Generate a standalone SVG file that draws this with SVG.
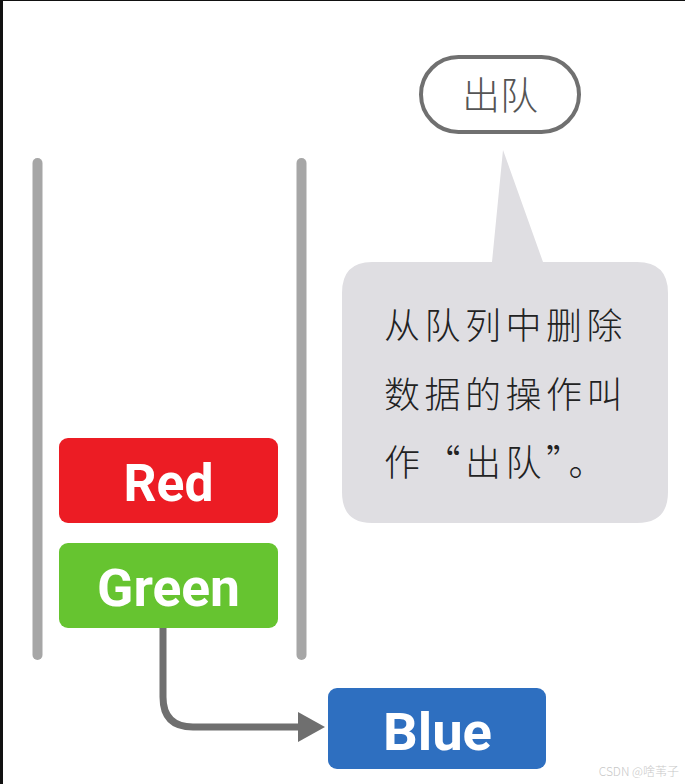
<svg xmlns="http://www.w3.org/2000/svg" width="685" height="784" viewBox="0 0 685 784">
<defs>
<style>
.bar{stroke:#a6a6a6;stroke-width:10;stroke-linecap:round;fill:none}
.box-label{font-family:Roboto,"Liberation Sans",sans-serif;font-weight:bold;font-size:51px;fill:#ffffff;text-anchor:middle}
.cjk{font-family:"Noto Sans CJK SC","Noto Sans",sans-serif;font-weight:300}
.body{font-size:36px;fill:#222222;letter-spacing:4.5px}
.conn{stroke:#6f6f6f;stroke-width:7;fill:none}
</style>
<marker id="arrow" viewBox="0 0 27 30" refX="0" refY="15" markerWidth="27" markerHeight="30" markerUnits="userSpaceOnUse" orient="auto">
<polygon points="0,0 27,15 0,30" fill="#6f6f6f"/>
</marker>
</defs>
<rect x="0" y="0" width="685" height="784" fill="#ffffff"/>
<rect x="0" y="0" width="3" height="784" fill="#111111"/>
<rect x="0" y="0" width="685" height="1" fill="#111111"/>
<g id="queue-walls">
<line class="bar" x1="37.5" y1="163" x2="37.5" y2="655"/>
<line class="bar" x1="301.5" y1="163" x2="301.5" y2="655"/>
</g>
<g id="node-red">
<rect x="59" y="438" width="219" height="85" rx="9" fill="#ec1c24"/>
<text class="box-label" x="168.5" y="501" textLength="90" lengthAdjust="spacingAndGlyphs">Red</text>
</g>
<g id="node-green">
<rect x="59" y="543" width="219" height="85" rx="9" fill="#66c430"/>
<text class="box-label" x="168.5" y="606" textLength="143" lengthAdjust="spacingAndGlyphs">Green</text>
</g>
<g id="node-blue">
<rect x="328" y="688" width="218" height="81" rx="9" fill="#2e6fc0"/>
<text class="box-label" x="437.5" y="750" textLength="109" lengthAdjust="spacingAndGlyphs">Blue</text>
</g>
<g id="connectors">
<path class="conn" d="M163,628 V697 Q163,727 193,727 H298" marker-end="url(#arrow)"/>
</g>
<g id="label-dequeue">
<rect x="421" y="57" width="158" height="75" rx="37.5" fill="#ffffff" stroke="#707070" stroke-width="4"/>
<text class="cjk" x="500" y="109" font-size="38" fill="#555555" text-anchor="middle">出队</text>
</g>
<g id="callout">
<path d="M372,262 H492 L503,150 L543,262 H637 Q668,262 668,293 V492 Q668,523 637,523 H372 Q342,523 342,492 V293 Q342,262 372,262 Z" fill="#dfdee2"/>
<text class="cjk body" x="384" y="339">从队列中删除</text>
<text class="cjk body" x="384" y="408">数据的操作叫</text>
<text class="cjk body" x="384" y="476">作“出队”。</text>
</g>
<text class="cjk" x="679" y="776" font-size="12" fill="#c8c8c8" text-anchor="end">CSDN @啥苇子</text>
</svg>
